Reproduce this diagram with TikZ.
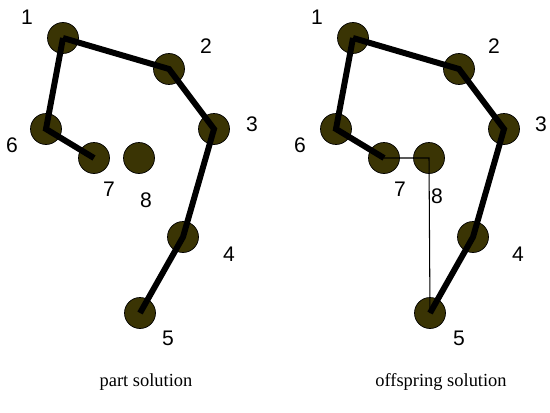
\documentclass[tikz,border=0pt]{standalone}
\usepackage{fontspec}
\setmainfont{Liberation Serif}
\setsansfont{Liberation Sans}
\usepackage{tikz}
\usetikzlibrary{positioning}
\definecolor{blob}{RGB}{58,52,4}

\begin{document}
\begin{tikzpicture}[x=0.02cm,y=-0.02cm,
  city/.style={circle,draw=black,fill=blob,minimum size=0.62cm,inner sep=0pt},
  num/.style={font=\fontsize{12}{14}\sffamily},
  solcap/.style={font=\fontsize{10.5}{12}\selectfont},
  tour/.style={line width=3.4pt},
  link/.style={line width=0.6pt}]
\useasboundingbox (0,0) rectangle (550,412);
% part solution
\node[city] (a1) at (63,38) {};
\node[city] (a2) at (169,69) {};
\node[city] (a3) at (214,129) {};
\node[city] (a4) at (183,237) {};
\node[city] (a5) at (140,313) {};
\node[city] (a6) at (46,129) {};
\node[city] (a7) at (94,158) {};
\node[city] (a8) at (139,158) {};
\draw[tour] (a1.center) -- (a2.center) -- (a3.center) -- (a4.center) -- (a5.center);
\draw[tour] (a1.center) -- (a6.center) -- (a7.center);
\node[num] (la1) at (27,17) {1};
\node[num] (la2) at (206,46) {2};
\node[num] (la3) at (252,124) {3};
\node[num] (la4) at (229,254) {4};
\node[num] (la5) at (168,338) {5};
\node[num] (la6) at (12,145) {6};
\node[num] (la7) at (109,189) {7};
\node[num] (la8) at (146,200) {8};
\node[solcap] (ca) at (146,382) {part solution};
% offspring solution
\node[city] (b1) at (353,38) {};
\node[city] (b2) at (459,69) {};
\node[city] (b3) at (504,129) {};
\node[city] (b4) at (473,237) {};
\node[city] (b5) at (430,313) {};
\node[city] (b6) at (336,129) {};
\node[city] (b7) at (384,158) {};
\node[city] (b8) at (429,158) {};
\draw[tour] (b1.center) -- (b2.center) -- (b3.center) -- (b4.center) -- (b5.center);
\draw[tour] (b1.center) -- (b6.center) -- (b7.center);
\draw[link] (b7.center) -- (b8.center) -- (b5.center);
\node[num] (lb1) at (317,17) {1};
\node[num] (lb2) at (494,46) {2};
\node[num] (lb3) at (541,124) {3};
\node[num] (lb4) at (518,254) {4};
\node[num] (lb5) at (459,338) {5};
\node[num] (lb6) at (300,145) {6};
\node[num] (lb7) at (400,189) {7};
\node[num] (lb8) at (437,196) {8};
\node[solcap] (cb) at (441,382) {offspring solution};
\end{tikzpicture}
\end{document}
